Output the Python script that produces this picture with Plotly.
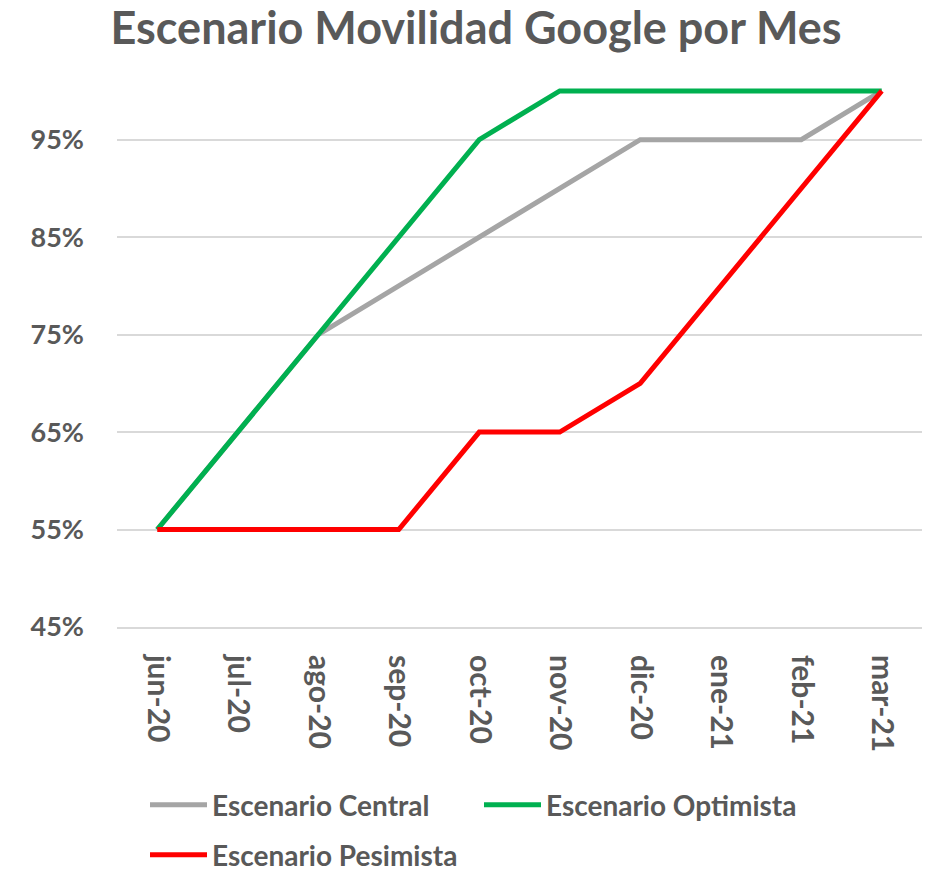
import plotly.graph_objects as go

months = ["jun-20", "jul-20", "ago-20", "sep-20", "oct-20", "nov-20",
          "dic-20", "ene-21", "feb-21", "mar-21"]
central = [0.55, 0.65, 0.75, 0.80, 0.85, 0.90, 0.95, 0.95, 0.95, 1.00]
optimista = [0.55, 0.65, 0.75, 0.85, 0.95, 1.00, 1.00, 1.00, 1.00, 1.00]
pesimista = [0.55, 0.55, 0.55, 0.55, 0.65, 0.65, 0.70, 0.80, 0.90, 1.00]
y_ticks = [0.45, 0.55, 0.65, 0.75, 0.85, 0.95]

TXT = "#595959"
FONT = "Lato"
W, H = 928, 870

fig = go.Figure()
for name, vals, col, lg in [("Escenario Central", central, "#A5A5A5", "legend"),
                            ("Escenario Optimista", optimista, "#00B050", "legend"),
                            ("Escenario Pesimista", pesimista, "#FF0000", "legend2")]:
    fig.add_trace(go.Scatter(x=months, y=vals, mode="lines", name=name, legend=lg,
                             line=dict(color=col, width=5)))

leg_common = dict(orientation="h", xref="container", yref="container",
                  xanchor="left", yanchor="middle",
                  entrywidth=262, entrywidthmode="pixels", itemwidth=57,
                  font=dict(family=FONT, size=28, color=TXT, weight="bold"),
                  bgcolor="rgba(0,0,0,0)")

fig.update_layout(
    width=W, height=H,
    paper_bgcolor="white", plot_bgcolor="white",
    margin=dict(l=117, r=6, t=88, b=243, autoexpand=False),
    title=dict(text="Escenario Movilidad Google por Mes",
               x=0.513, xanchor="center", y=0.967, yanchor="middle",
               font=dict(family=FONT, size=45, color=TXT, weight="bold")),
    font=dict(family=FONT, color=TXT),
    showlegend=True,
    legend=dict(leg_common, x=145 / W, y=1 - 805 / H),
    legend2=dict(leg_common, x=145 / W, y=1 - 855 / H),
)
fig.update_xaxes(type="category", range=[-0.5, 9.5], tickangle=90, showgrid=False,
                 showline=True, linecolor="#D9D9D9", linewidth=2, automargin=False,
                 ticks="", tickfont=dict(family=FONT, size=30, color=TXT, weight="bold"),
                 ticklabelstandoff=20)
fig.update_yaxes(range=[0.45, 1.003], tickvals=y_ticks, tickformat=".0%",
                 showgrid=True, gridcolor="#D9D9D9", gridwidth=2, automargin=False,
                 zeroline=False, showline=False, ticks="",
                 tickfont=dict(family=FONT, size=27, color=TXT, weight="bold"),
                 ticklabelstandoff=32)

fig.write_html("out.html", config={"displayModeBar": False},
               post_script="document.body.style.margin='0';document.body.style.overflow='hidden';")
